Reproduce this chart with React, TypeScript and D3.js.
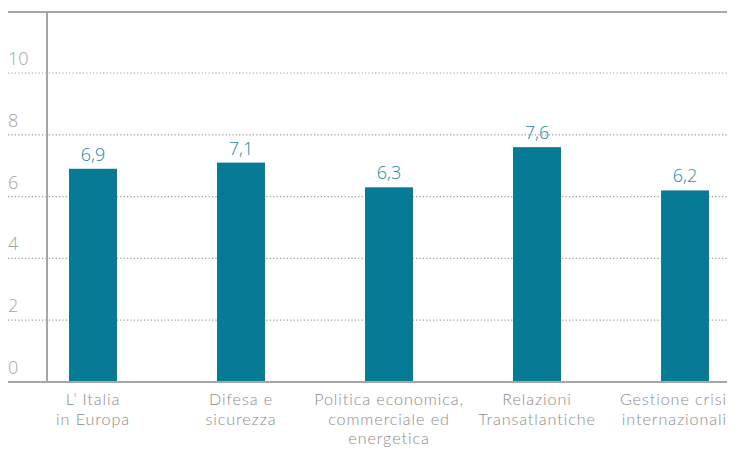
import React from "react";
import * as d3 from "d3";

const categories: string[][] = [
  ["L’ Italia", "in Europa"],
  ["Difesa e", "sicurezza"],
  ["Politica economica,", "commerciale ed", "energetica"],
  ["Relazioni", "Transatlantiche"],
  ["Gestione crisi", "internazionali"],
];
const values: number[] = [6.9, 7.1, 6.3, 7.6, 6.2];
const valueLabels: string[] = ["6,9", "7,1", "6,3", "7,6", "6,2"];
const yTicks: number[] = [0, 2, 4, 6, 8, 10];

const W = 741;
const H = 449;
const FONT = "'Open Sans', Lato, sans-serif";
const LABEL_FONT = "Lato, 'Open Sans', sans-serif";

export default function App() {
  const y = d3.scaleLinear().domain([0, 12]).range([382, 11.2]);
  const x = d3
    .scaleBand<number>()
    .domain(d3.range(values.length))
    .range([19, 759])
    .paddingInner(0.676)
    .paddingOuter(0.338);
  const left = 8;
  const right = 727;
  const axisX = 47;
  return (
    <svg
      width={W}
      height={H}
      style={{ position: "absolute", left: 0, top: 0, background: "#fff" }}
    >
      {yTicks
        .filter((t) => t > 0)
        .map((t) => (
          <line
            key={"g" + t}
            x1={left}
            x2={right}
            y1={y(t)}
            y2={y(t)}
            stroke="#9a9a9a"
            strokeWidth={1.2}
            strokeDasharray="1.2,2.2"
          />
        ))}
      {yTicks.map((t) => (
        <text
          key={"t" + t}
          x={left}
          y={y(t) - 8}
          fill="#a3a3a3"
          fontFamily={FONT}
          fontWeight={300}
          fontSize={18}
        >
          {t}
        </text>
      ))}
      <line x1={left} x2={right} y1={12} y2={12} stroke="#a6a6a6" strokeWidth={2} />
      <line x1={axisX} x2={axisX} y1={12} y2={y(0)} stroke="#a6a6a6" strokeWidth={2} />
      {values.map((v, i) => (
        <rect
          key={"b" + i}
          x={x(i)!}
          y={y(v)}
          width={x.bandwidth()}
          height={y(0) - y(v)}
          fill="#077a96"
        />
      ))}
      <line x1={left} x2={right} y1={y(0)} y2={y(0)} stroke="#a6a6a6" strokeWidth={2} />
      {values.map((v, i) => (
        <text
          key={"v" + i}
          x={x(i)! + x.bandwidth() / 2}
          y={y(v) - 8}
          textAnchor="middle"
          fill="#1b88a6"
          fontFamily={FONT}
          fontWeight={300}
          fontSize={18}
        >
          {valueLabels[i]}
        </text>
      ))}
      {categories.map((lines, i) => {
        const last = i === categories.length - 1;
        const cx = x(i)! + x.bandwidth() / 2;
        return lines.map((l, j) => (
          <text
            key={"c" + i + "-" + j}
            x={last ? right : cx}
            y={405 + j * 19.5}
            textAnchor={last ? "end" : "middle"}
            fill="#8c8c8c"
            fontFamily={LABEL_FONT}
            fontWeight={300}
            fontSize={16.2}
            letterSpacing={0.9}
          >
            {l}
          </text>
        ));
      })}
    </svg>
  );
}
